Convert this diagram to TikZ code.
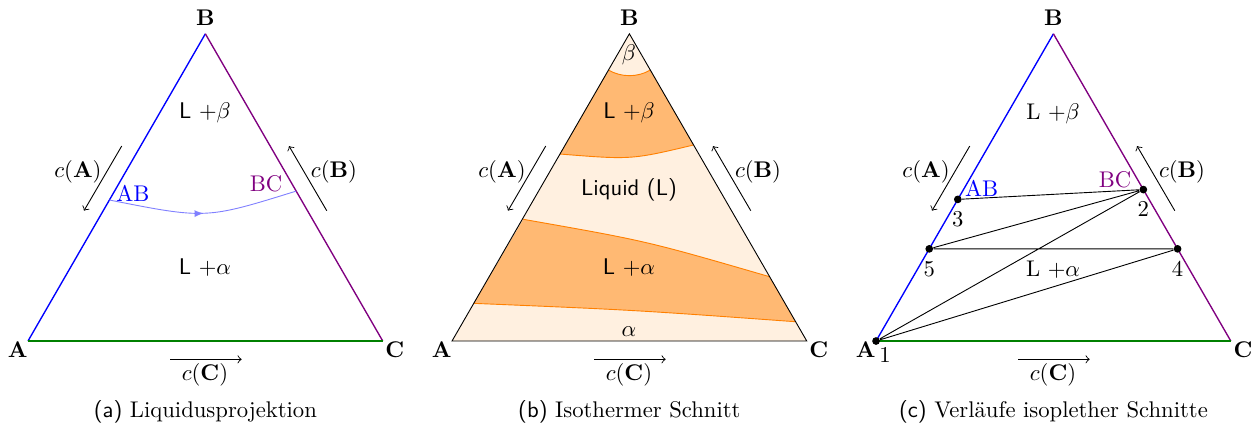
\documentclass[tikz,border=0pt]{standalone}
\usepackage{amsmath,amssymb}
\usepackage{tikz}
\usetikzlibrary{calc,decorations.markings,positioning}

\tikzset{
	ecklabel/.style={inner sep=0pt},
	konzpfeil/.style={->},
	seite/.style={semithick},
	einphase/.style={fill=orange!12},
	zweiphase/.style={fill=orange!55},
	phasengrenze/.style={orange},
	punkt/.style={circle,fill=black,inner sep=0pt,minimum size=3.4pt},
	liquidus/.style={blue!50,postaction={decorate},
		decoration={markings,mark=at position 0.5 with {\arrow{latex}}}}
}

\begin{document}
\begin{tikzpicture}
	\useasboundingbox (-0.434,-1.38) rectangle (19.07,5.287);

	\foreach \dx/\t/\titel in {0/a/Liquidusprojektion, 6.574/b/Isothermer Schnitt, 13.148/c/Verläufe isoplether Schnitte}{
	\begin{scope}[xshift=\dx cm, name prefix=\t-]
		\coordinate (A) at (0,0);
		\coordinate (B) at (2.75,4.763);
		\coordinate (C) at (5.5,0);
		
		\node[ecklabel, anchor=north east] (lA) at (A) {$\mathbf{A}$};
		\node[above] (lB) at (B) {$\mathbf{B}$};
		\node[ecklabel, anchor=north west, xshift=1pt] (lC) at (C) {$\mathbf{C}$};
		
		\coordinate (cA1) at (1.453,3.023);
		\coordinate (cA2) at (0.868,2.02);
		\coordinate (cB1) at (4.632,2.02);
		\coordinate (cB2) at (4.047,3.023);
		\coordinate (cC1) at (2.202,-0.284);
		\coordinate (cC2) at (3.313,-0.284);
		\draw[konzpfeil] (cA1) -- (cA2);
		\draw[konzpfeil] (cB1) -- (cB2);
		\draw[konzpfeil] (cC1) -- (cC2);
		\node (cA) at (0.775,2.62) {$c(\mathbf{A})$};
		\node (cB) at (4.744,2.62) {$c(\mathbf{B})$};
		\node (cC) at (2.744,-0.52) {$c(\mathbf{C})$};
		
		\node (titel) at (2.75,-1.1) {\textsf{(\t)} \titel};
	\end{scope}
	}

	% (a) Liquidusprojektion
	\begin{scope}[name prefix=a-]
		\coordinate (AB) at ($(A)!0.459!(B)$);
		\coordinate (BC) at ($(C)!0.488!(B)$);
		\draw[seite, blue] (A) -- (B);
		\draw[seite, violet] (B) -- (C);
		\draw[seite, green!50!black] (A) -- (C);
		\draw[liquidus] (AB) .. controls (2.76,1.89) .. (BC);
		
		\node[blue] (lAB) at (1.628,2.295) {AB};
		\node[violet] (lBC) at (3.69,2.442) {BC};
		\node (Lb) at (2.744,3.535) {\textsf{L} $+\beta$};
		\node (La) at (2.744,1.132) {\textsf{L} $+\alpha$};
	\end{scope}

	% (b) Isothermer Schnitt
	\begin{scope}[xshift=6.574cm, name prefix=b-]
		\coordinate (betaL) at ($(B)!0.118!(A)$);
		\coordinate (LbL) at (1.674,2.899);
		\coordinate (LbR) at (3.745,3.039);
		\coordinate (LaL) at (1.105,1.887);
		\coordinate (LaR) at (4.924,0.997);
		\coordinate (aL) at (0.337,0.584);
		\coordinate (aR) at (5.327,0.299);
		
		\fill[einphase] (A) -- (B) -- (C) -- cycle;
		\fill[zweiphase] (LbL) -- (betaL) arc[start angle=240, end angle=300, radius=0.65] -- (LbR) .. controls (2.78,2.81) .. (LbL) -- cycle;
		\fill[zweiphase] (LaL) .. controls (3.02,1.55) .. (LaR) -- (aR) .. controls (2.83,0.48) .. (aL) -- cycle;
		\draw[phasengrenze] (betaL) arc[start angle=240, end angle=300, radius=0.65];
		\draw[phasengrenze] (LbL) .. controls (2.78,2.81) .. (LbR);
		\draw[phasengrenze] (LaL) .. controls (3.02,1.55) .. (LaR);
		\draw[phasengrenze] (aL) .. controls (2.83,0.48) .. (aR);
		\draw (A) -- (B) -- (C) -- cycle;
		
		\node (beta) at (2.744,4.434) {$\beta$};
		\node (Lb) at (2.744,3.535) {\textsf{L} $+\beta$};
		\node (L) at (2.744,2.341) {\textsf{Liquid (L)}};
		\node (La) at (2.744,1.132) {\textsf{L} $+\alpha$};
		\node (alpha) at (2.744,0.14) {$\alpha$};
	\end{scope}

	% (c) isoplethe Schnitte
	\begin{scope}[xshift=13.148cm, name prefix=c-]
		\draw[seite, blue] (A) -- (B);
		\draw[seite, violet] (B) -- (C);
		\draw[seite, green!50!black] (A) -- (C);
		
		\node[punkt] (p1) at (A) {};
		\node[punkt] (p2) at ($(C)!0.493!(B)$) {};
		\node[punkt] (p3) at ($(A)!0.461!(B)$) {};
		\node[punkt] (p4) at ($(C)!0.3!(B)$) {};
		\node[punkt] (p5) at ($(A)!0.3!(B)$) {};
		\draw (p3) -- (p2) -- (p5) -- (p4) -- (p1) -- (p2);
		
		\node (n1) at (0.14,-0.22) {1};
		\node[below=0pt of p2] (n2) {2};
		\node[below=0pt of p3] (n3) {3};
		\node[below=0pt of p4] (n4) {4};
		\node[below=0pt of p5] (n5) {5};
		\node[blue] (lAB) at (1.639,2.367) {AB};
		\node[violet] (lBC) at (3.705,2.496) {BC};
		\node (Lb) at (2.744,3.53) {L $+\beta$};
		\node (La) at (2.744,1.11) {L $+\alpha$};
	\end{scope}
\end{tikzpicture}
\end{document}
